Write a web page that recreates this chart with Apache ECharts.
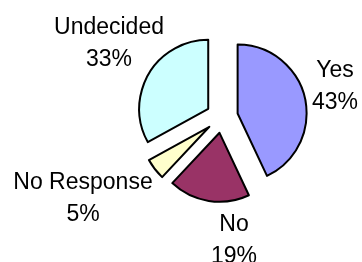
<!DOCTYPE html>
<html>
<head>
<meta charset="utf-8">
<script src="https://cdn.jsdelivr.net/npm/echarts@6/dist/echarts.min.js"></script>
<style>
  html, body { margin: 0; padding: 0; background: #fff; }
  #main { width: 362px; height: 262px; }
</style>
</head>
<body>
<div id="main"></div>
<script>
// survey answers, in clockwise order from 12 o'clock
var categories = ["Yes", "No", "No Response", "Undecided"];
var values = [43, 19, 5, 33];
var colors = ["#9999FF", "#993366", "#FFFFCC", "#CCFFFF"];

var pieCenter = [222, 117];
// where each label block sits, relative to the pie centre
var labelSpot = [[113, -30], [12, 124], [-139, 82], [-113, -73]];

var myChart = echarts.init(document.getElementById("main"));

var total = values.reduce(function (a, b) { return a + b; }, 0);

var pieData = categories.map(function (name, i) {
  return { name: name, value: values[i], selected: true, itemStyle: { color: colors[i] } };
});

// the pie's own labels would not stay put, so draw the label blocks as graphic text
var labelTexts = categories.map(function (name, i) {
  var s = labelSpot[i];
  return {
    type: "text",
    x: pieCenter[0] + s[0],
    y: pieCenter[1] + s[1],
    silent: true,
    style: {
      text: name + "\n" + Math.round((values[i] / total) * 100) + "%",
      fontFamily: "Liberation Sans, Arial, sans-serif",
      fontSize: 23,
      lineHeight: 32,
      fill: "#000",
      align: "center",
      verticalAlign: "middle"
    }
  };
});

var option = {
  animation: false,
  graphic: { elements: labelTexts },
  series: [
    {
      type: "pie",
      center: pieCenter,
      radius: 69,
      startAngle: 90,
      clockwise: true,
      selectedMode: "multiple",
      selectedOffset: 16,
      itemStyle: { borderColor: "#000", borderWidth: 2 },
      label: { show: false },
      labelLine: { show: false },
      emphasis: { disabled: true },
      data: pieData
    }
  ]
};

myChart.setOption(option);
</script>
</body>
</html>
